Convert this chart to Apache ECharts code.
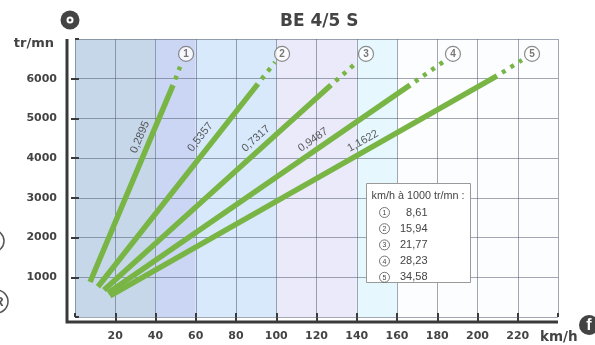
<!DOCTYPE html>
<html><head><meta charset="utf-8">
<script src="https://cdn.jsdelivr.net/npm/echarts@6/dist/echarts.min.js"></script>
<style>html,body{margin:0;padding:0;background:#fff}#c{width:595px;height:345px}</style>
</head><body><div id="c"></div>
<script>
// ---- data ----
const chartTitle = 'BE 4/5 S';
const yAxisName = 'tr/mn';
const xAxisName = 'km/h';
const legendTitle = 'km/h à 1000 tr/mn :';
const xTickLabels = ['20','40','60','80','100','120','140','160','180','200','220'];
const yTickLabels = ['1000','2000','3000','4000','5000','6000'];
const gears = ['1','2','3','4','5'];
const ratios = ['0,2895','0,5357','0,7317','0,9487','1,1622'];
const kmhPer1000 = ['8,61','15,94','21,77','28,23','34,58'];
const solidStartKmh = [7.5, 11.4, 14.4, 16.4, 17.4];
const solidStartRpm = [880, 760, 680, 605, 530];
const solidEndKmh = [48.7, 90.9, 127.2, 166.5, 209.7];
const solidEndRpm = [5840, 5870, 5840, 5840, 6070];
const dotEndKmh = [52.2, 99.4, 138.6, 182.9, 222.1];
const dotEndRpm = [6300, 6420, 6350, 6420, 6470];
const ratioLabelKmh = [32.3, 62.3, 89.9, 118.3, 143.1];
const ratioLabelRpm = [4530, 4530, 4490, 4460, 4430];
const gearMarkKmh = [55.2, 102.9, 144.6, 187.8, 227.1];
const gearMarkRpm = [6625, 6625, 6625, 6625, 6625];

// ---- style ----
const FONT = '"Liberation Sans", Arial, Helvetica, sans-serif';
const BFONT = '"DejaVu Sans", Verdana, sans-serif';
const GREEN = '#78b545';
const GRID = 'rgba(85,95,115,0.55)';
const AX = '#3a3a3a';
const bandColors = ['#c7d7ea','#c7d7ea','#cbd6f4','#d8e9fb','#d8e9fb','#ebeafa','#ebeafa','#e6f7fd','#fcfdff','#fcfdff','#fcfdff','#fcfdff'];

const chart = echarts.init(document.getElementById('c'), null, {renderer: 'canvas'});

const series = [];
gears.forEach((g, i) => {
  series.push({
    type: 'line', name: 'gear' + g, silent: true, animation: false, z: 3,
    data: [[solidStartKmh[i], solidStartRpm[i]], [solidEndKmh[i], solidEndRpm[i]]],
    symbol: 'none', lineStyle: {color: GREEN, width: 5.5, cap: 'butt'}
  });
  series.push({
    type: 'line', silent: true, animation: false, z: 3,
    data: [[solidEndKmh[i], solidEndRpm[i]], [dotEndKmh[i], dotEndRpm[i]]],
    symbol: 'none', lineStyle: {color: GREEN, width: 4.5, type: [4, 6], dashOffset: 4, cap: 'butt'}
  });
});
series.push({
  id: 'ratioLabels', type: 'scatter', silent: true, animation: false, z: 4,
  data: ratios.map((r, i) => ({value: [ratioLabelKmh[i], ratioLabelRpm[i]], label: {formatter: r}})),
  symbolSize: 1, itemStyle: {color: 'rgba(0,0,0,0)'},
  label: {show: true, position: 'inside', fontSize: 11, color: '#333', fontFamily: FONT}
});
series.push({
  type: 'scatter', silent: true, animation: false, z: 4,
  data: gears.map((g, i) => ({value: [gearMarkKmh[i], gearMarkRpm[i]], label: {formatter: g}})),
  symbol: 'circle', symbolSize: 15,
  itemStyle: {color: '#fff', borderColor: '#6f6f6f', borderWidth: 1.2},
  label: {show: true, position: 'inside', fontSize: 10, fontWeight: 'bold', color: '#555', fontFamily: FONT}
});

const tickStyle = {color: AX, width: 2};
const axisLabelStyle = {fontSize: 11, fontWeight: 'bold', color: '#444', fontFamily: BFONT};

// legend box graphic
const lg = [];
const LX = 366.5, LY = 183.5;
lg.push({type: 'rect', shape: {x: LX, y: LY, width: 104, height: 99}, style: {fill: '#fff', stroke: '#9a9a9a', lineWidth: 1}, z: 20});
lg.push({type: 'text', x: LX + 5, y: LY + 13, style: {text: legendTitle, font: '10.8px ' + FONT, fill: '#444', verticalAlign: 'middle'}, z: 21});
kmhPer1000.forEach((v, i) => {
  const cy = LY + 29 + 16.2 * i;
  lg.push({type: 'circle', shape: {cx: LX + 18, cy: cy, r: 5}, style: {fill: '#fff', stroke: '#555', lineWidth: 0.8}, z: 21});
  lg.push({type: 'text', x: LX + 18, y: cy + 0.5, style: {text: gears[i], font: '7px ' + FONT, fill: '#444', align: 'center', verticalAlign: 'middle'}, z: 22});
  lg.push({type: 'text', x: LX + 61, y: cy, style: {text: v, font: '11px ' + FONT, fill: '#444', align: 'right', verticalAlign: 'middle'}, z: 21});
});

const option = {
  animation: false,
  backgroundColor: '#fff',
  title: {text: chartTitle, left: 275, top: 8, textStyle: {fontSize: 17, fontWeight: 'bold', color: '#444', fontFamily: BFONT}},
  grid: {left: 75, right: 37, top: 39, bottom: 28, containLabel: false},
  xAxis: [
    {type: 'value', min: 0, max: 240, interval: 20, offset: 5, position: 'bottom', z: 0,
     axisLine: {show: false},
     axisTick: {show: true, length: 4, lineStyle: tickStyle},
     axisLabel: Object.assign({margin: 9, showMinLabel: false, showMaxLabel: false,
       formatter: v => xTickLabels.includes(String(v)) ? String(v) : ''}, axisLabelStyle),
     splitLine: {show: true, lineStyle: {color: GRID, width: 1}},
     splitArea: {show: true, areaStyle: {color: bandColors}}},
    {type: 'value', min: 0, max: 240, interval: 20, offset: 5, position: 'bottom', z: 1,
     axisLine: {show: false},
     axisTick: {show: true, inside: true, length: 4, lineStyle: tickStyle},
     axisLabel: {show: false}, splitLine: {show: false}}
  ],
  yAxis: [
    {type: 'value', min: 0, max: 7000, interval: 1000, offset: 8, position: 'left', z: 1,
     axisLine: {show: false},
     axisTick: {show: true, length: 4, lineStyle: tickStyle},
     axisLabel: Object.assign({margin: 10, showMinLabel: false, showMaxLabel: false,
       formatter: v => yTickLabels.includes(String(v)) ? String(v) : ''}, axisLabelStyle),
     splitLine: {show: true, lineStyle: {color: GRID, width: 1}}},
    {type: 'value', min: 0, max: 7000, interval: 1000, offset: 8, position: 'left', z: 1,
     axisLine: {show: false},
     axisTick: {show: true, inside: true, length: 4, lineStyle: tickStyle},
     axisLabel: {show: false}, splitLine: {show: false}}
  ],
  series: series,
  graphic: [
    {type: 'polyline', shape: {points: [[67, 39], [67, 322], [558, 322]]}, style: {stroke: AX, lineWidth: 3, fill: null}, z: 10},
    {type: 'text', x: 54, y: 44, style: {text: yAxisName, font: 'bold 13px ' + BFONT, fill: '#444', align: 'right', verticalAlign: 'middle'}, z: 10},
    {type: 'text', x: 540, y: 337, style: {text: xAxisName, font: 'bold 13.5px ' + BFONT, fill: '#444', align: 'left', verticalAlign: 'middle'}, z: 10},
    // decorative icons
    {type: 'circle', shape: {cx: 70, cy: 20, r: 9.5}, style: {fill: '#444'}, z: 10},
    {type: 'circle', shape: {cx: 70, cy: 20, r: 3.5}, style: {fill: '#fff'}, z: 11},
    {type: 'circle', shape: {cx: 70, cy: 20, r: 1.5}, style: {fill: '#444'}, z: 12},
    {type: 'circle', shape: {cx: 589, cy: 325, r: 10}, style: {fill: '#444'}, z: 10},
    {type: 'text', x: 589, y: 326, style: {text: 'f', font: 'bold 16px ' + FONT, fill: '#fff', align: 'center', verticalAlign: 'middle'}, z: 11},
    {type: 'circle', shape: {cx: -7, cy: 241, r: 11}, style: {fill: null, stroke: '#555', lineWidth: 1.5}, z: 10},
    {type: 'circle', shape: {cx: -3.5, cy: 301.5, r: 11.5}, style: {fill: null, stroke: '#555', lineWidth: 1.5}, z: 10},
    {type: 'text', x: -1, y: 302, style: {text: 'R', font: 'bold 13px ' + FONT, fill: '#555', align: 'center', verticalAlign: 'middle'}, z: 10}
  ].concat(lg)
};

chart.setOption(option);

// rotate ratio labels along their lines, using the chart's own scales
const rotated = ratios.map((r, i) => {
  const a = chart.convertToPixel({seriesIndex: 0}, [solidStartKmh[i], solidStartRpm[i]]);
  const b = chart.convertToPixel({seriesIndex: 0}, [solidEndKmh[i], solidEndRpm[i]]);
  const ang = Math.atan2(a[1] - b[1], b[0] - a[0]) * 180 / Math.PI;
  return {value: [ratioLabelKmh[i], ratioLabelRpm[i]], label: {formatter: r, rotate: ang}};
});
chart.setOption({series: [{id: 'ratioLabels', data: rotated}]});
</script>
</body></html>
